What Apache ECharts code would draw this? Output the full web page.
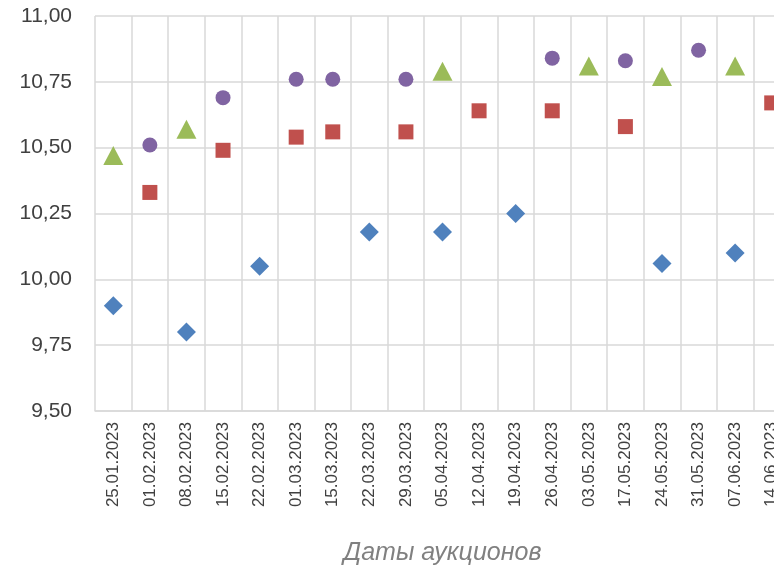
<!DOCTYPE html>
<html>
<head>
<meta charset="utf-8">
<script src="https://cdn.jsdelivr.net/npm/echarts@6/dist/echarts.min.js"></script>
<style>html,body{margin:0;padding:0;background:#fff}#c{width:774px;height:568px}</style>
</head>
<body>
<div id="c"></div>
<script>
const categories = ['25.01.2023','01.02.2023','08.02.2023','15.02.2023','22.02.2023','01.03.2023','15.03.2023','22.03.2023','29.03.2023','05.04.2023','12.04.2023','19.04.2023','26.04.2023','03.05.2023','17.05.2023','24.05.2023','31.05.2023','07.06.2023','14.06.2023'];
const seriesBlue   = [9.90, null, 9.80, null, 10.05, null, null, 10.18, null, 10.18, null, 10.25, null, null, null, 10.06, null, 10.10, null];
const seriesRed    = [null, 10.33, null, 10.49, null, 10.54, 10.56, null, 10.56, null, 10.64, null, 10.64, null, 10.58, null, null, null, 10.67];
const seriesGreen  = [10.47, null, 10.57, null, null, null, null, null, null, 10.79, null, null, null, 10.81, null, 10.77, null, 10.81, null];
const seriesPurple = [null, 10.51, null, 10.69, null, 10.76, 10.76, null, 10.76, null, null, null, 10.84, null, 10.83, null, 10.87, null, null];
const yTicks = [9.50, 9.75, 10.00, 10.25, 10.50, 10.75, 11.00];
const axisTitle = 'Даты аукционов';

const chart = echarts.init(document.getElementById('c'), null, {renderer: 'canvas'});
const font = 'Liberation Sans';
function sc(data, symbol, size, color) {
  return {type: 'scatter', data: data, symbol: symbol, symbolSize: size,
          itemStyle: {color: color, opacity: 1}, silent: true, animation: false};
}
chart.setOption({
  animation: false,
  grid: {left: 95, top: 16, width: 695, height: 395, containLabel: false, outerBoundsMode: 'none'},
  xAxis: {
    type: 'category', data: categories, boundaryGap: true,
    axisLine: {show: true, lineStyle: {color: '#d9d9d9', width: 1.5}},
    axisTick: {show: false},
    splitLine: {show: true, interval: 0, lineStyle: {color: '#d9d9d9', width: 1.5}},
    axisLabel: {interval: 0, rotate: 90, margin: 11, color: '#404040', fontFamily: font, fontSize: 17},
    name: axisTitle, nameLocation: 'middle', nameGap: 130,
    nameTextStyle: {color: '#808080', fontFamily: font, fontSize: 25, fontStyle: 'italic'}
  },
  yAxis: {
    type: 'value', min: yTicks[0], max: yTicks[yTicks.length - 1], interval: 0.25,
    axisLine: {show: false}, axisTick: {show: false},
    splitLine: {show: true, lineStyle: {color: '#d9d9d9', width: 1.5}},
    axisLabel: {margin: 23, color: '#404040', fontFamily: font, fontSize: 21,
      formatter: v => v.toFixed(2).replace('.', ',')}
  },
  series: [
    sc(seriesBlue, 'diamond', [19, 19], '#4F81BD'),
    sc(seriesRed, 'rect', [15, 15], '#C0504D'),
    sc(seriesGreen, 'triangle', [20, 19], '#9BBB59'),
    sc(seriesPurple, 'circle', 15, '#8064A2')
  ]
});
</script>
</body>
</html>
